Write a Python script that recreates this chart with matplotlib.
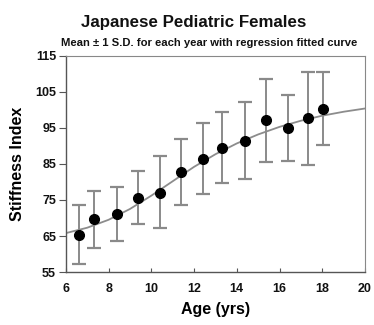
import matplotlib
matplotlib.use('Agg')
import matplotlib.pyplot as plt

plt.rcParams['font.family'] = ['Liberation Sans', 'DejaVu Sans']

# mean ± 1 S.D. per age group
age = [6.6, 7.3, 8.4, 9.4, 10.4, 11.4, 12.4, 13.3, 14.4, 15.35, 16.4, 17.35, 18.05]
mean = [65.3, 69.8, 71.0, 75.5, 77.0, 82.7, 86.5, 89.5, 91.5, 97.2, 94.9, 97.8, 100.3]
upper = [73.5, 77.5, 78.5, 83.0, 87.3, 91.9, 96.3, 99.3, 102.2, 108.7, 104.1, 110.5, 110.5]
lower = [57.3, 61.7, 63.7, 68.3, 67.3, 73.5, 76.6, 79.8, 80.7, 85.6, 85.9, 84.8, 90.3]

# regression fitted curve
curve_x = [6, 7, 8, 9, 10, 11, 12, 13, 14, 15, 16, 17, 18, 19, 20]
curve_y = [65.8, 67.3, 69.5, 72.5, 76.2, 80.2, 84.2, 87.7, 90.7, 93.2, 95.3, 97.0, 98.4, 99.5, 100.4]

xticks = [6, 8, 10, 12, 14, 16, 18, 20]
yticks = [55, 65, 75, 85, 95, 105, 115]

fig = plt.figure(figsize=(3.74, 3.25), dpi=100, facecolor='white')
ax = fig.add_axes([0.176, 0.163, 0.800, 0.665])

ax.plot(curve_x, curve_y, color='#8c8c8c', linewidth=1.3, zorder=2)

err_lo = [m - l for m, l in zip(mean, lower)]
err_hi = [u - m for m, u in zip(mean, upper)]
eb = ax.errorbar(age, mean, yerr=[err_lo, err_hi], fmt='none',
                 ecolor='#8a8a8a', elinewidth=1.4, capsize=5, capthick=1.6, zorder=3)
for cap in eb[1]:
    cap.set_color('#2a2a2a')
ax.plot(age, mean, 'o', color='black', markersize=7, zorder=4)

ax.set_xlim(6, 20)
ax.set_ylim(55, 115)
ax.set_xticks(xticks)
ax.set_yticks(yticks)
ax.tick_params(axis='x', direction='in', length=3, width=0.8, colors='#555555',
               labelcolor='#111111', labelsize=9, pad=8)
ax.tick_params(axis='y', direction='out', length=5, width=0.8, colors='#555555',
               labelcolor='#111111', labelsize=9, pad=2)
for lab in ax.get_xticklabels() + ax.get_yticklabels():
    lab.set_fontweight('bold')

for s in ['left', 'bottom']:
    ax.spines[s].set_color('#555555')
    ax.spines[s].set_linewidth(1.0)
for s in ['top', 'right']:
    ax.spines[s].set_color('#888888')
    ax.spines[s].set_linewidth(0.8)

ax.set_xlabel('Age (yrs)', fontsize=11.5, fontweight='bold', labelpad=5)
ax.set_ylabel('Stiffness Index', fontsize=11.5, fontweight='bold', labelpad=7)

fig.text(0.519, 0.93, 'Japanese Pediatric Females', ha='center', va='center',
         fontsize=12.2, fontweight='bold', color='#111111')
fig.text(0.56, 0.868, 'Mean \u00b1 1 S.D. for each year with regression fitted curve',
         ha='center', va='center', fontsize=8.1, fontweight='bold', color='#111111')

fig.savefig('out.png', dpi=100, facecolor='white')
